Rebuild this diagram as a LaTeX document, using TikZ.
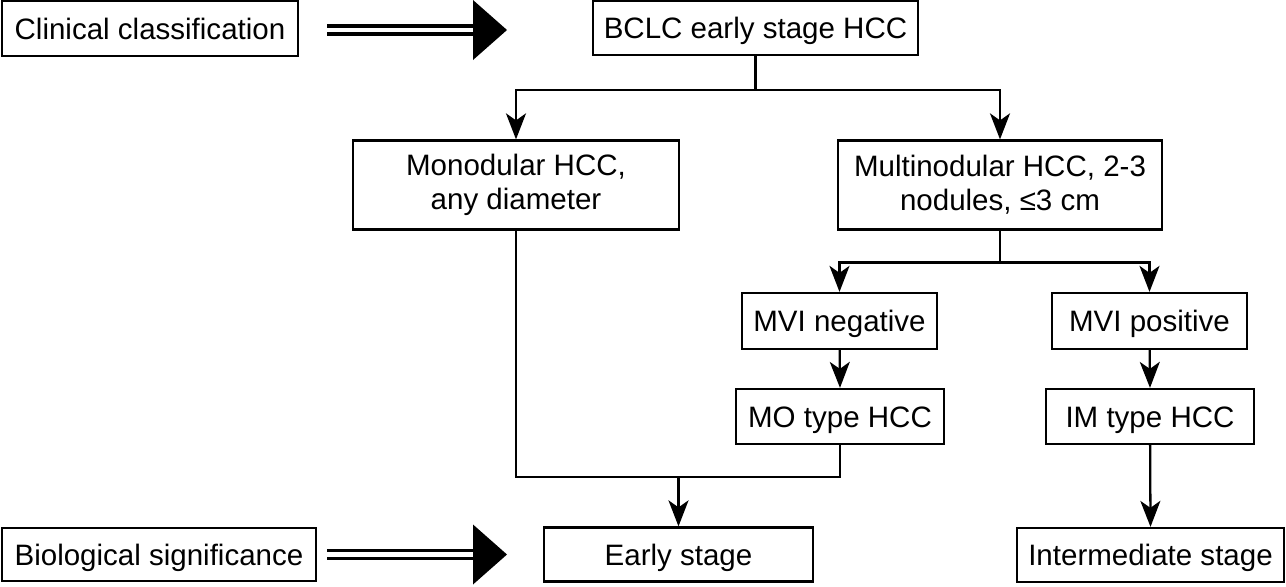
\documentclass[tikz,border=0pt]{standalone}
\usepackage{fontspec}
\setmainfont{Liberation Sans}
\usetikzlibrary{arrows.meta,positioning}

\tikzset{
box/.style={draw, line width=1.3pt, align=center, inner sep=0pt, font=\fontsize{16.8}{19.5}\selectfont},
oneline/.style={box, text height=12pt, text depth=0pt},
link/.style={line width=1.3pt, -{Stealth[length=0.52cm,width=0.4cm,inset=0.14cm]}},
wire/.style={line width=1.3pt},
fat/.style={line width=0.07cm, double, double distance=0.09cm},
}

\begin{document}
\begin{tikzpicture}[x=0.02cm,y=-0.02cm]
\useasboundingbox (0,0) rectangle (1286,586);

\node[oneline, minimum width=5.92cm, minimum height=1.1cm] (clin) at (150,28.5) {Clinical classification};
\node[oneline, minimum width=6.5cm, minimum height=1.08cm] (bclc) at (755.5,28) {BCLC early stage HCC};
\node[box, minimum width=6.52cm, minimum height=1.78cm] (mono) at (516,185) {Monodular HCC,\\ any diameter};
\node[box, minimum width=6.48cm, minimum height=1.78cm] (multi) at (1000,185) {Multinodular HCC, 2-3\\ nodules, ≤3 cm};
\node[oneline, minimum width=3.9cm, minimum height=1.12cm] (mvineg) at (839.5,321) {MVI negative};
\node[oneline, minimum width=3.9cm, minimum height=1.12cm] (mvipos) at (1149.5,321) {MVI positive};
\node[oneline, minimum width=4.16cm, minimum height=1.1cm] (mo) at (840,416.5) {MO type HCC};
\node[oneline, minimum width=4.16cm, minimum height=1.1cm] (im) at (1150,416.5) {IM type HCC};
\node[oneline, minimum width=6.28cm, minimum height=1.06cm] (bio) at (159,554.5) {Biological significance};
\node[oneline, minimum width=5.38cm, minimum height=1.08cm] (early) at (678.5,554.5) {Early stage};
\node[oneline, minimum width=5.34cm, minimum height=1.08cm] (inter) at (1150.5,555) {Intermediate stage};

\coordinate (split1) at (755.5,90);
\coordinate (split2) at (1000,262.5);
\coordinate (join) at (678.5,477);

\draw[wire] (bclc.south) -- (split1);
\draw[wire] (multi.south) -- (split2);
\draw[wire] (mono.south) |- (join) -| (mo.south);

\foreach \a/\b in {split1/mono, split1/multi, split2/mvineg, split2/mvipos}
\draw[link] (\a) -| (\b.north);
\foreach \a/\b in {mvineg/mo, mvipos/im, im/inter, join/early}
\draw[link] (\a) -- (\b.north);

\coordinate (ctail) at (327,30);
\coordinate (ctip) at (507,30);
\coordinate (btail) at (327,554.5);
\coordinate (btip) at (507,554.5);

\foreach \s in {c,b} {
\draw[fat] (\s tail) -- ([xshift=-0.64cm]\s tip);
\fill (\s tip) -- ++(-34,-30) -- ++(0,60) -- cycle;
}
\end{tikzpicture}
\end{document}
